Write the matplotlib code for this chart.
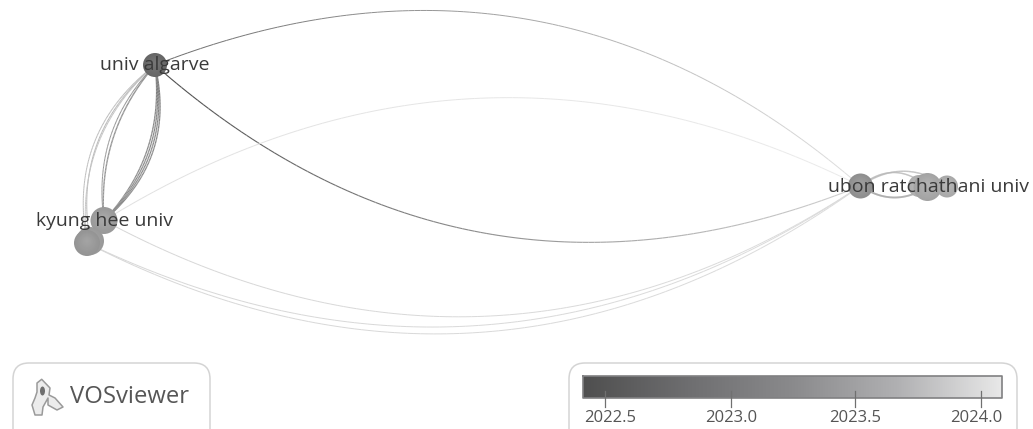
import numpy as np
import matplotlib
matplotlib.use("Agg")
import matplotlib.pyplot as plt
from matplotlib.collections import LineCollection
from matplotlib.patches import Circle, FancyBboxPatch, Polygon, Ellipse

plt.rcParams['font.family'] = ['Open Sans', 'DejaVu Sans']

# nodes: pixel-space map layout of the VOSviewer network
node_x = [155, 104, 90, 87, 860.5, 919, 927.5, 947]
node_y = [65, 220.5, 241, 243, 186, 186, 187, 186.5]
node_r = [12, 13.5, 14, 13, 12.5, 11, 14, 11]
node_gray = [0.40, 0.60, 0.60, 0.58, 0.56, 0.68, 0.64, 0.66]

labels = ["univ algarve", "kyung hee univ", "ubon ratchathani univ"]
label_x = [154.5, 104, 928.5]
label_y = [65, 221, 187.5]

# edges: start node, end node, sagitta (px), start gray, end gray, width
edge_a = [0, 0, 1, 1, 3, 3, 4, 4, 4,
          0, 0, 0, 0, 0, 0, 0, 0, 0]
edge_b = [4, 4, 4, 4, 4, 4, 6, 7, 6,
          1, 1, 1, 1, 2, 3, 3, 1, 1]
edge_s = [-108, 110, -105, 113, 118, 111, -14, -15, 11,
          -25, -23, -21, -19, 27, 29, 25, 20, 17]
edge_g0 = [0.42, 0.30, 0.88, 0.84, 0.84, 0.84, 0.70, 0.72, 0.58,
           0.50, 0.50, 0.50, 0.50, 0.70, 0.72, 0.75, 0.55, 0.55]
edge_g1 = [0.88, 0.82, 0.92, 0.86, 0.86, 0.86, 0.70, 0.72, 0.62,
           0.55, 0.55, 0.55, 0.55, 0.72, 0.75, 0.78, 0.60, 0.60]
edge_w = [0.7, 0.8, 0.7, 0.7, 0.7, 0.7, 1.0, 1.0, 1.3,
          0.9, 0.9, 0.9, 0.9, 0.7, 0.7, 0.7, 0.7, 1.0]

# colour scale
scale_labels = ["2022.5", "2023.0", "2023.5", "2024.0"]
scale_px = [604.7, 730.7, 854.7, 980.7]
scale_label_px = [610, 731, 855, 976]

# logo outline
logo_x = [41.7, 50, 49, 55, 63, 57, 48, 48, 43, 42, 35, 32, 35, 37, 37]
logo_y = [379.3, 388, 395, 398, 407, 410, 405, 398, 407, 415, 415, 405, 398, 392, 383]

fig = plt.figure(figsize=(10.33, 4.29), dpi=100)
ax = fig.add_axes([0, 0, 1, 1])
ax.set_xlim(0, 1033)
ax.set_ylim(429, 0)
ax.axis("off")

def curve(a, b, s, n=120):
    p0 = np.array([node_x[a], node_y[a]], float)
    p1 = np.array([node_x[b], node_y[b]], float)
    d = p1 - p0
    perp = np.array([-d[1], d[0]]) / np.hypot(*d)
    c = (p0 + p1) / 2 + 2 * s * perp
    t = np.linspace(0, 1, n)[:, None]
    return (1 - t) ** 2 * p0 + 2 * t * (1 - t) * c + t ** 2 * p1

for a, b, s, g0, g1, w in zip(edge_a, edge_b, edge_s, edge_g0, edge_g1, edge_w):
    pts = curve(a, b, s)
    segs = np.stack([pts[:-1], pts[1:]], axis=1)
    g = np.linspace(g0, g1, len(segs))
    ax.add_collection(LineCollection(segs, colors=[(v, v, v) for v in g],
                                     linewidths=w, zorder=2))

for x, y, r, g in zip(node_x, node_y, node_r, node_gray):
    for f in np.linspace(1, 0.15, 10):
        v = min(1, g + (1 - f) * 0.07)
        ax.add_patch(Circle((x, y - (1 - f) * r * 0.2), r * f, color=(v, v, v),
                            lw=0, zorder=3))

for t, x, y in zip(labels, label_x, label_y):
    ax.text(x, y, t, ha="center", va="center", fontsize=14, color="#3a3a3a", zorder=5)

# logo box and colour-scale box (cut by the lower edge as in the picture)
ax.add_patch(FancyBboxPatch((13, 363), 197, 90, boxstyle="round,pad=0,rounding_size=16",
                            fc="white", ec="#d4d4d4", lw=1.1, zorder=1))
ax.add_patch(FancyBboxPatch((569, 363), 448, 90, boxstyle="round,pad=0,rounding_size=16",
                            fc="white", ec="#d4d4d4", lw=1.1, zorder=1))
ax.add_patch(Polygon(np.c_[logo_x, logo_y], closed=True, fc="#ececec", ec="#9a9a9a", lw=1.1,
                     joinstyle="round", zorder=2))
ax.add_patch(Ellipse((42.5, 391), 5, 9, color="#6e6e6e", lw=0, zorder=3))
ax.text(70, 397, "VOSviewer", ha="left", va="center", fontsize=17.2, color="#565656")

grad = np.linspace(0, 1, 256)[None, :]
cmap = matplotlib.colors.LinearSegmentedColormap.from_list(
    "scale", ["#4f4f4f", "#6e6e70", "#8a8a8c", "#b0b0b2", "#e8e8e8"])
ax.imshow(grad, extent=(583, 1002, 398, 376), cmap=cmap, aspect="auto", zorder=2)
ax.set_xlim(0, 1033)
ax.set_ylim(429, 0)
ax.plot([583, 1002, 1002, 583, 583], [376, 376, 398, 398, 376], color="#808082", lw=1.2, zorder=3)
for px, lx, t in zip(scale_px, scale_label_px, scale_labels):
    ax.plot([px, px], [391, 407], color="#707070", lw=0.9, zorder=4)
    ax.text(lx, 418, t, ha="center", va="center", fontsize=12, color="#555555")

fig.savefig("out.png", dpi=100, facecolor="white")
